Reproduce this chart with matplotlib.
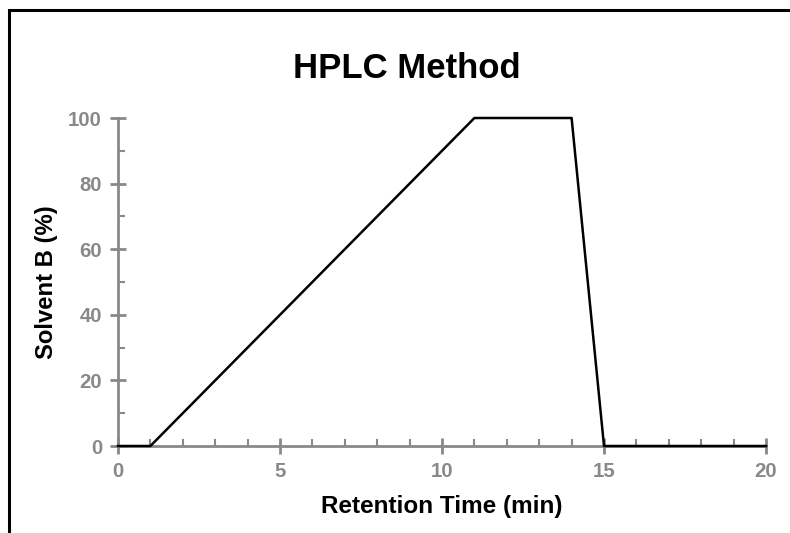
import matplotlib.pyplot as plt
from matplotlib.patches import Rectangle

# gradient program: time (min) vs % solvent B
time_min = [0, 1, 11, 14, 15, 20]
solvent_b = [0, 0, 100, 100, 0, 0]

x_ticks = [0, 5, 10, 15, 20]
y_ticks = [0, 20, 40, 60, 80, 100]

plt.rcParams['font.family'] = ['Liberation Sans', 'DejaVu Sans']
grey = '#898989'

fig = plt.figure(figsize=(7.9, 5.33), dpi=100)
ax = fig.add_axes([118 / 790, 87 / 533, 648 / 790, 328 / 533])

ax.plot(time_min, solvent_b, color='black', linewidth=1.8, clip_on=False, zorder=3)

ax.set_xlim(0, 20)
ax.set_ylim(0, 100)
ax.set_xticks(x_ticks)
ax.set_yticks(y_ticks)
ax.set_xticks([v for v in range(21) if v % 5], minor=True)
ax.set_yticks([v for v in range(0, 101, 10) if v % 20], minor=True)

for side in ['top', 'right']:
    ax.spines[side].set_visible(False)
for side in ['left', 'bottom']:
    ax.spines[side].set_color(grey)
    ax.spines[side].set_linewidth(2)

ax.tick_params(which='major', direction='inout', length=11, width=2, color=grey,
               labelcolor=grey, labelsize=14.7, pad=6)
ax.tick_params(which='minor', direction='in', length=5, width=1.5, color=grey)
for lbl in ax.get_xticklabels() + ax.get_yticklabels():
    lbl.set_fontweight('bold')

ax.set_xlabel('Retention Time (min)', fontsize=17.5, fontweight='bold', labelpad=10)
ax.set_ylabel('Solvent B (%)', fontsize=17.2, fontweight='bold', labelpad=7)
fig.text(407 / 790, 1 - 68 / 533, 'HPLC Method', fontsize=25, fontweight='bold',
         ha='center', va='center')

# outer frame
fig.patches.append(Rectangle((9 / 790, -0.1), 1.2, 0.1 + 1 - 10 / 533,
                             transform=fig.transFigure, fill=False,
                             edgecolor='black', linewidth=2.2))

fig.savefig('out.png', dpi=100)
